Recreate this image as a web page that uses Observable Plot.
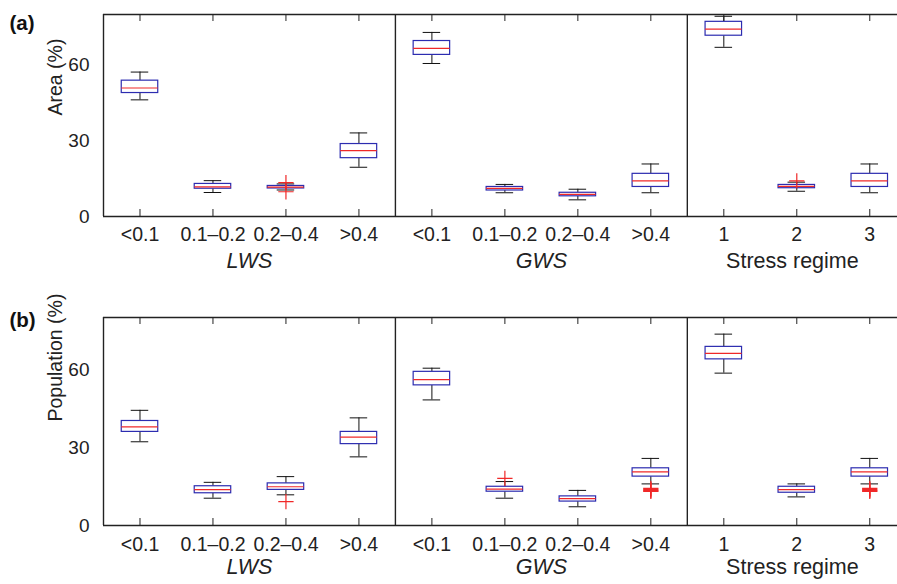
<!DOCTYPE html>
<html><head><meta charset="utf-8">
<script src="https://cdn.jsdelivr.net/npm/d3@7"></script>
<script src="https://cdn.jsdelivr.net/npm/@observablehq/plot@0.6"></script>
<style>
body{margin:0;background:#fff;width:897px;height:584px;overflow:hidden;}
#chart svg{display:block;}
</style></head><body><div id="chart"></div>
<script>
// ---- data ----
const xLabels = ["<0.1","0.1\u20130.2","0.2\u20130.4",">0.4","<0.1","0.1\u20130.2","0.2\u20130.4",">0.4","1","2","3"];
const groupNames = ["LWS","GWS","Stress regime"];
const groupSizes = [4,4,3];
const yTicks = [0,30,60];
const yMax = 80;

// Panel (a) Area (%)
const areaLow  = [46.2, 9.5,10.5,19.5, 60.6, 9.4, 6.6, 9.4, 67.0,10.0, 9.4];
const areaQ1   = [48.9,11.0,11.1,23.1, 64.0,10.3, 8.0,11.7, 71.6,11.2,11.7];
const areaMed  = [50.9,11.7,11.6,26.1, 66.6,11.1, 8.8,14.1, 74.2,11.9,14.1];
const areaQ3   = [53.8,12.9,12.1,28.7, 69.5,11.7, 9.4,16.9, 77.1,12.5,16.9];
const areaHigh = [57.2,14.2,12.9,33.1, 72.9,12.7,10.8,20.8, 79.3,13.6,20.8];
const areaOutliers = [[2,13.4],[2,9.8],[9,14.1]];

// Panel (b) Population (%)
const popLow  = [32.2,10.5,11.8,26.4, 48.3,10.5, 7.2,16.0, 58.6,11.0,16.0];
const popQ1   = [36.0,12.4,13.7,31.3, 53.9,13.0, 9.2,18.8, 63.9,12.6,18.8];
const popMed  = [37.9,13.8,14.9,34.0, 56.1,14.0,10.3,20.6, 66.2,13.8,20.6];
const popQ3   = [40.2,15.1,16.2,36.0, 59.1,14.9,11.2,22.0, 68.7,14.9,22.0];
const popHigh = [44.3,16.6,18.8,41.4, 60.5,16.9,13.5,25.8, 73.6,16.0,25.8];
const popOutliers = [[2,9.2],[5,18.1],[7,14.3],[7,13.8],[7,13.4],[7,13.1],[10,14.3],[10,13.8],[10,13.4],[10,13.1]];

// ---- layout / style ----
const FONT = "'Liberation Sans', Arial, Helvetica, sans-serif";
const TEXT = "#222";
const BLUE = "#2c2cb0";
const RED = "#f02828";
const FRAME = "#222";
const xMin = -0.5, xMaxVisible = 10.38;
const bw = 0.25, cw = 0.12;

const idx = xLabels.map((_, i) => i);
const bounds = [xMin];
groupSizes.forEach((s, g) => bounds.push(bounds[g] + s));
const centers = groupSizes.map((s, g) => (bounds[g] + (g === groupSizes.length - 1 ? xMaxVisible : bounds[g + 1])) / 2);

function panel(o) {
  const innerH = o.height - o.marginTop - o.marginBottom;
  return Plot.plot({
    width: 897, height: o.height,
    marginLeft: 103, marginRight: 0, marginTop: o.marginTop, marginBottom: o.marginBottom,
    style: {fontFamily: FONT, fontSize: "18px", color: TEXT, background: "white", overflow: "visible"},
    x: {domain: [xMin, xMaxVisible]},
    y: {domain: [0, yMax]},
    marks: [
      // whiskers
      Plot.ruleX(idx, {x: i => i, y1: i => o.q3[i], y2: i => o.high[i], stroke: "#111", strokeWidth: 1}),
      Plot.ruleX(idx, {x: i => i, y1: i => o.low[i], y2: i => o.q1[i], stroke: "#111", strokeWidth: 1}),
      Plot.ruleY(idx, {x1: i => i - cw, x2: i => i + cw, y: i => o.high[i], stroke: "#111", strokeWidth: 1}),
      Plot.ruleY(idx, {x1: i => i - cw, x2: i => i + cw, y: i => o.low[i], stroke: "#111", strokeWidth: 1}),
      // boxes
      Plot.rect(idx, {x1: i => i - bw, x2: i => i + bw, y1: i => o.q1[i], y2: i => o.q3[i], fill: "white", stroke: BLUE, strokeWidth: 1.2}),
      Plot.ruleY(idx, {x1: i => i - bw, x2: i => i + bw, y: i => o.med[i], stroke: RED, strokeWidth: 1.2}),
      // outliers
      Plot.dot(o.outliers, {x: d => d[0], y: d => d[1], symbol: "plus", r: 5, stroke: RED, strokeWidth: 1.2}),
      // frame + dividers
      Plot.ruleY([0, yMax], {stroke: FRAME, strokeWidth: 1.4}),
      Plot.ruleX(bounds.slice(0, -1), {stroke: FRAME, strokeWidth: 1.4}),
      // inward ticks
      Plot.tickX(idx, {x: d => d, insetTop: innerH - 7, stroke: FRAME, strokeWidth: 1}),
      Plot.tickX(idx, {x: d => d, insetBottom: innerH - 7, stroke: FRAME, strokeWidth: 1}),
      // axes
      Plot.axisX({ticks: idx, tickFormat: i => xLabels[i], tickSize: 0, tickPadding: o.tickPad, label: null, fontSize: 19.5}),
      Plot.axisY({ticks: yTicks, tickSize: 0, tickPadding: 14, label: null, fontSize: 19}),
      // labels
      Plot.text(groupNames.slice(0, 2), {x: (d, i) => centers[i], frameAnchor: "bottom", dy: o.labelDy, fontSize: 21.5, fontStyle: "italic", fill: TEXT}),
      Plot.text(groupNames.slice(2), {x: (d, i) => centers[i + 2], frameAnchor: "bottom", dy: o.labelDy, fontSize: 21.5, fill: TEXT}),
      Plot.text([o.yLabel], {frameAnchor: "left", rotate: -90, dx: -48, fontSize: 19.5, fill: TEXT}),
      Plot.text([o.tag], {frameAnchor: "top-left", dx: -94, dy: o.tagDy, textAnchor: "start", lineAnchor: "top", fontWeight: "bold", fontSize: 20.5, fill: "#111"})
    ]
  });
}

const chart = document.getElementById("chart");
chart.append(panel({tag: "(a)", yLabel: "Area (%)", low: areaLow, q1: areaQ1, med: areaMed, q3: areaQ3, high: areaHigh, outliers: areaOutliers,
  height: 290, marginTop: 14, marginBottom: 74, tickPad: 11, labelDy: 51, tagDy: 1}));
chart.append(panel({tag: "(b)", yLabel: "Population (%)", low: popLow, q1: popQ1, med: popMed, q3: popQ3, high: popHigh, outliers: popOutliers,
  height: 294, marginTop: 27, marginBottom: 59, tickPad: 12, labelDy: 48, tagDy: -5}));
</script></body></html>
